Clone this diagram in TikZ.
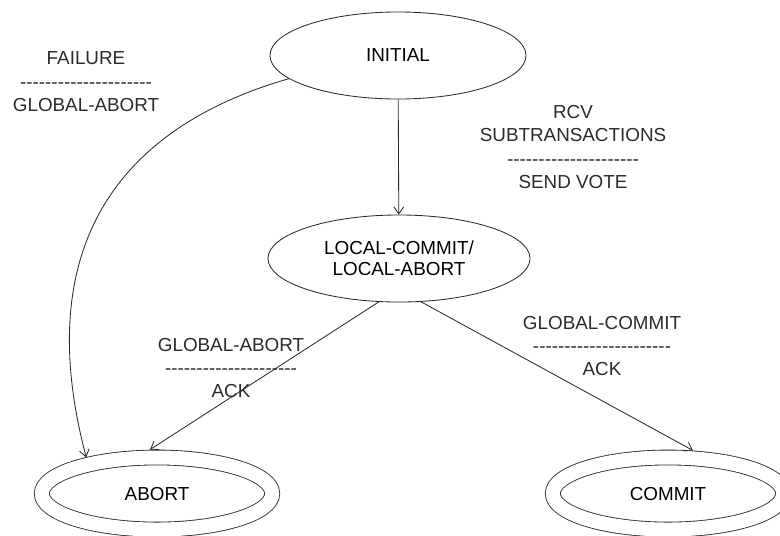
\documentclass[tikz,border=0pt]{standalone}
\usepackage{fontspec}
\setmainfont{Liberation Sans}
\usetikzlibrary{shapes.geometric,arrows.meta}
\definecolor{ink}{HTML}{2B2B2B}
\newcommand{\hyphenrow}[1]{\foreach \k in {1,...,#1}{-}}
\tikzset{
    stateoval/.style={ellipse, draw=ink, minimum height=2.175cm, align=center},
    finaloval/.style={ellipse, draw=ink, double, double distance=0.35cm,
        minimum width=5.76cm, minimum height=1.8cm, outer sep=0.2cm},
    edgelabel/.style={align=center, text=ink}
}
\begin{document}
\begin{tikzpicture}[x=0.025cm, y=-0.025cm, line width=0.6pt,
        >={Straight Barb[length=5pt,width=7pt]},
        font=\fontsize{13.4}{16.7}\selectfont]
            \clip (0,0) rectangle (780,535);
            \node[stateoval, minimum width=6.4cm] (init) at (398,55.5) {INITIAL};
            \node[stateoval, minimum width=6.55cm, font=\fontsize{13.4}{14.9}\selectfont] (local) at (399,258.5) {LOCAL-COMMIT/\\LOCAL-ABORT};
            \node[finaloval] (abort) at (157,493.5) {ABORT};
            \node[finaloval] (commit) at (668,493.5) {COMMIT};
            \node[edgelabel] (failtxt) at (86,82) {FAILURE\\\hyphenrow{21}\\GLOBAL-ABORT};
            \node[edgelabel] (votetxt) at (573,147) {RCV\\SUBTRANSACTIONS\\\hyphenrow{21}\\SEND VOTE};
            \node[edgelabel] (aborttxt) at (231,368) {GLOBAL-ABORT\\\hyphenrow{21}\\ACK};
            \node[edgelabel] (committxt) at (602,346) {GLOBAL-COMMIT\\\hyphenrow{22}\\ACK};
            \draw[->, ink] (init) -- (local);
            \draw[->, ink] (init.192) .. controls (141,121) and (25,226) .. (abort.153);
            \draw[->, ink] (local.245) -- (abort.99);
            \draw[->, ink] (local.297) -- (commit.60);
        \end{tikzpicture}
\end{document}
